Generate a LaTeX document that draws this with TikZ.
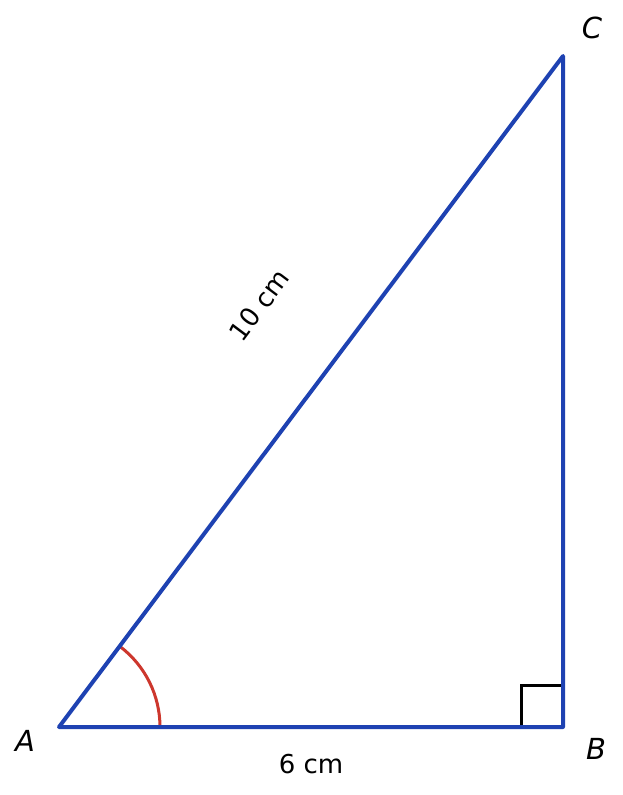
\documentclass[tikz,border=0pt]{standalone}
\usepackage{fontspec}
\setmainfont{DejaVu Sans}
\definecolor{triblue}{RGB}{30,66,178}
\definecolor{arcred}{RGB}{205,55,45}
\tikzset{
  side/.style={draw=triblue, line width=4pt, line join=round, line cap=round},
  anglearc/.style={draw=arcred, line width=3pt},
  rightmark/.style={draw=black, line width=3pt},
  vlabel/.style={font=\fontsize{29}{34}\selectfont\itshape, inner sep=0pt},
  lenlabel/.style={font=\fontsize{26}{31}\selectfont, inner sep=0pt}
}
\begin{document}
\begin{tikzpicture}[x=1pt,y=-1pt]
\useasboundingbox (0,0) rectangle (622,795);
\coordinate (A) at (59,727);
\coordinate (B) at (563,727);
\coordinate (C) at (563,56);
\draw[anglearc] (160,727) arc[start angle=0, end angle=-53.1, radius=101];
\draw[rightmark] (563,685) -- (521,685) -- (521,727);
\draw[side] (A) -- (B) -- (C) -- cycle;
\node[vlabel] (lA) at (25,741) {A};
\node[vlabel] (lB) at (596,749) {B};
\node[vlabel] (lC) at (592,28) {C};
\node[lenlabel] (lAB) at (311,764) {6 cm};
\node[lenlabel, rotate=53.1] (lAC) at (259,305) {10 cm};
\end{tikzpicture}
\end{document}
